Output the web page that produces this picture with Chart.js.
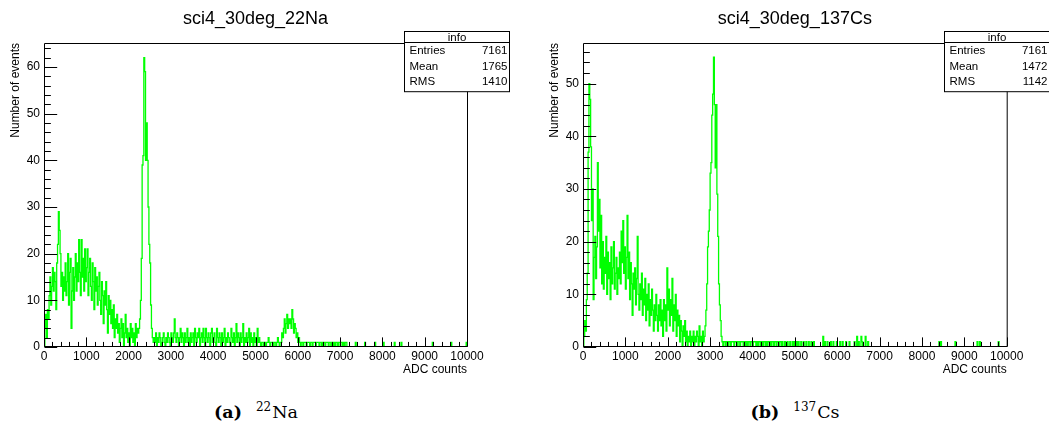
<!DOCTYPE html>
<html>
<head>
<meta charset="utf-8">
<script src="https://cdn.jsdelivr.net/npm/chart.js@4/dist/chart.umd.min.js"></script>
<style>
  body { margin: 0; background: #fff; width: 1049px; height: 427px; position: relative; overflow: hidden; }
  canvas { position: absolute; top: 0; }
  #naChart { left: 0; }
  #csChart { left: 539px; }
  .caption { position: absolute; top: 402px; width: 240px; text-align: center; line-height: 20px;
             font-family: 'DejaVu Serif', 'Liberation Serif', serif; font-size: 17.5px; color: #000; }
  .caption b { margin-right: 14px; }
  .caption sup { font-size: 12px; vertical-align: baseline; position: relative; top: -0.6em; margin-right: 1px; }
</style>
</head>
<body>
<canvas id="naChart" width="511" height="392"></canvas>
<canvas id="csChart" width="510" height="392"></canvas>
<div class="caption" style="left:136px"><b>(a)</b><sup>22</sup>Na</div>
<div class="caption" style="left:675px"><b>(b)</b><sup>137</sup>Cs</div>
<script>
// both histograms: 500 bins of 20 ADC counts between 0 and 10000
const BIN_WIDTH = 20;
const X_MAX = 10000;

// 22Na bin contents, one line = 10 bins = 200 ADC (start of line in comment)
const naCounts = [
  0, 4, 7, 2, 8, 6, 11, 15, 9, 13,        // 0
  17, 12, 16, 14, 8, 18, 22, 29, 25, 20,  // 200
  13, 16, 10, 15, 12, 18, 11, 14, 20, 9,  // 400
  16, 19, 4, 12, 17, 10, 15, 20, 12, 18,  // 600
  14, 23, 16, 11, 23, 15, 19, 12, 21, 14, // 800
  17, 21, 11, 16, 19, 13, 10, 18, 14, 8,  // 1000
  17, 12, 15, 9, 13, 16, 10, 7, 14, 11,   // 1200
  5, 12, 9, 14, 8, 3, 11, 7, 10, 5,       // 1400
  8, 4, 9, 2, 6, 4, 7, 3, 5, 1,           // 1600
  4, 6, 2, 5, 0, 3, 7, 2, 4, 1,           // 1800
  3, 0, 5, 2, 4, 1, 3, 0, 5, 2,           // 2000
  4, 3, 4, 6, 10, 19, 39, 41, 62, 59,     // 2200
  40, 48, 40, 30, 22, 18, 9, 4, 2, 1,     // 2400
  2, 1, 3, 0, 2, 1, 3, 2, 0, 1,           // 2600
  2, 3, 1, 0, 2, 1, 3, 2, 1, 0,           // 2800
  3, 2, 1, 3, 6, 2, 1, 3, 2, 0,           // 3000
  2, 4, 1, 3, 2, 0, 3, 1, 2, 4,           // 3200
  1, 2, 0, 3, 1, 2, 3, 0, 4, 2,           // 3400
  1, 3, 2, 4, 0, 2, 3, 1, 4, 2,           // 3600
  0, 4, 2, 1, 3, 2, 0, 3, 4, 1,           // 3800
  2, 3, 1, 0, 4, 2, 1, 3, 2, 0,           // 4000
  3, 1, 2, 4, 0, 2, 1, 3, 2, 1,           // 4200
  0, 4, 2, 1, 3, 0, 2, 5, 1, 3,           // 4400
  2, 0, 3, 1, 2, 5, 0, 2, 1, 3,           // 4600
  1, 2, 4, 0, 3, 1, 2, 0, 3, 1,           // 4800
  2, 0, 4, 1, 2, 1, 0, 1, 1, 0,           // 5000
  1, 1, 0, 1, 1, 2, 1, 0, 1, 1,           // 5200
  1, 0, 1, 1, 0, 1, 2, 1, 0, 1,           // 5400
  1, 3, 2, 4, 6, 3, 5, 7, 4, 6,           // 5600
  5, 6, 4, 8, 6, 3, 5, 4, 2, 3,           // 5800
  1, 2, 1, 0, 1, 1, 0, 1, 1, 1,           // 6000
  0, 1, 1, 1, 0, 1, 1, 0, 1, 1,           // 6200
  1, 0, 1, 1, 1, 0, 1, 1, 0, 1,           // 6400
  1, 1, 0, 1, 1, 1, 0, 1, 1, 0,           // 6600
  1, 1, 0, 1, 0, 1, 1, 0, 1, 1,           // 6800
  0, 1, 1, 0, 1, 0, 1, 1, 0, 0            // 7000
];
// single entries further out: [ADC, count]
const naTail = [[7360, 1], [7580, 1], [7820, 1], [8020, 1], [8280, 1], [8440, 1], [9180, 1], [9620, 1], [9980, 1]];

// 137Cs bin contents
const csCounts = [
  0, 2, 5, 3, 9, 14, 37, 50, 47, 38,      // 0
  24, 30, 9, 17, 21, 13, 19, 35, 22, 28,  // 200
  15, 25, 12, 20, 11, 17, 14, 21, 10, 18, // 400
  13, 16, 9, 19, 12, 15, 20, 11, 14, 17,  // 600
  10, 15, 13, 18, 12, 22, 16, 24, 14, 19, // 800
  11, 17, 25, 13, 18, 9, 16, 12, 6, 14,   // 1000
  11, 15, 8, 13, 21, 10, 7, 12, 9, 14,    // 1200
  6, 11, 8, 13, 5, 10, 7, 12, 4, 9,       // 1400
  6, 11, 7, 3, 8, 5, 10, 6, 3, 8,         // 1600
  5, 9, 4, 7, 2, 9, 5, 8, 3, 15,          // 1800
  7, 11, 4, 9, 6, 13, 3, 8, 5, 10,        // 2000
  2, 7, 4, 6, 1, 5, 3, 0, 4, 2,           // 2200
  5, 1, 3, 0, 2, 1, 3, 0, 2, 1,           // 2400
  3, 0, 2, 1, 3, 2, 0, 4, 1, 2,           // 2600
  0, 3, 1, 2, 4, 7, 12, 19, 22, 26,       // 2800
  33, 35, 44, 48, 55, 46, 34, 46, 29, 21, // 3000
  12, 8, 5, 2, 1, 0, 1, 1, 0, 1,          // 3200
  1, 0, 1, 1, 0, 1, 1, 1, 0, 1,           // 3400
  1, 1, 0, 1, 1, 0, 1, 1, 1, 0,           // 3600
  1, 1, 0, 1, 0, 1, 1, 0, 1, 1,           // 3800
  0, 1, 1, 1, 0, 1, 0, 1, 1, 0,           // 4000
  1, 1, 0, 1, 1, 0, 1, 0, 1, 1,           // 4200
  0, 1, 0, 1, 1, 0, 1, 1, 0, 1,           // 4400
  1, 0, 1, 1, 0, 1, 0, 0, 1, 0,           // 4600
  0, 1, 0, 0, 1, 0, 0, 1, 0, 1,           // 4800
  0, 0, 1, 0, 1, 0, 0, 1, 0, 0,           // 5000
  1, 0, 0, 1, 0, 0, 1, 0, 0, 1,           // 5200
  0, 0, 1, 0, 0, 0, 0, 0, 0, 0,           // 5400
  0, 0, 0, 2, 0, 1, 0, 0, 1, 0,           // 5600
  0, 0, 1, 0, 0, 1, 0, 0, 0, 1,           // 5800
  0, 0, 0, 1, 0, 0, 1, 0, 0, 0,           // 6000
  1, 0, 0, 0, 1, 0, 0, 0, 0, 0,           // 6200
  1, 0, 0, 2, 0, 1, 0, 0, 2, 1,           // 6400
  0, 0, 0, 2, 0, 0, 1, 0, 0, 0            // 6600
];
const csTail = [[8400, 1], [8440, 1], [8780, 1], [9300, 1], [9360, 1], [9800, 1]];

const xTicks = [0, 1000, 2000, 3000, 4000, 5000, 6000, 7000, 8000, 9000, 10000];
const naYTicks = [0, 10, 20, 30, 40, 50, 60];
const csYTicks = [0, 10, 20, 30, 40, 50];
const naStats = [['Entries', '7161'], ['Mean', '1765'], ['RMS', '1410']];
const csStats = [['Entries', '7161'], ['Mean', '1472'], ['RMS', '1142']];

const FONT = "'Liberation Sans', Arial, Helvetica, sans-serif";

// full bin list -> step line points (lower bin edges + closing point)
function histPoints(counts, tail) {
  const bins = new Array(X_MAX / BIN_WIDTH).fill(0);
  counts.forEach((c, i) => { bins[i] = c; });
  tail.forEach(([adc, c]) => { bins[Math.floor(adc / BIN_WIDTH)] = c; });
  const pts = bins.map((c, i) => ({ x: i * BIN_WIDTH, y: c }));
  pts.push({ x: X_MAX, y: 0 });
  return pts;
}

// ROOT style frame: inner ticks, frame lines and the stats box
const rootFrame = {
  id: 'rootFrame',
  afterDatasetsDraw(chart, args, opts) {
    const { ctx, chartArea: a, scales: { x, y } } = chart;
    const L = a.left + 0.5, B = a.bottom - 0.5, T = a.top + 0.5, R = a.right + 0.5;
    ctx.save();
    ctx.strokeStyle = '#000';
    ctx.lineWidth = 1;

    ctx.beginPath();
    ctx.moveTo(L, T); ctx.lineTo(R, T); ctx.lineTo(R, B); ctx.lineTo(L, B); ctx.closePath();
    ctx.stroke();

    // x ticks, 5 subdivisions
    const xStep = (xTicks[1] - xTicks[0]) / 5;
    const xLen = (a.bottom - a.top) * 0.03;
    ctx.beginPath();
    for (let v = xTicks[0]; v <= xTicks[xTicks.length - 1] + 1e-6; v += xStep) {
      const px = Math.round(x.getPixelForValue(v)) + 0.5;
      const major = xTicks.includes(Math.round(v));
      ctx.moveTo(px, B);
      ctx.lineTo(px, B - (major ? xLen : xLen / 2));
    }
    // y ticks, 5 subdivisions
    const yStep = (opts.yTicks[1] - opts.yTicks[0]) / 5;
    const yLen = (a.right - a.left) * 0.03;
    for (let v = 0; v <= y.max + 1e-6; v += yStep) {
      const py = Math.round(y.getPixelForValue(v)) + 0.5;
      const major = opts.yTicks.includes(Math.round(v));
      ctx.moveTo(L, py);
      ctx.lineTo(L + (major ? yLen : yLen / 2), py);
    }
    ctx.stroke();

    // stats box
    const bx = Math.round(a.right - 63) + 0.5, by = 31.5, bw = 105, rowH = 15.4, headH = 11;
    const bh = headH + rowH * opts.stats.length + 3;
    ctx.fillStyle = '#fff';
    ctx.fillRect(bx, by, bw, bh);
    ctx.strokeRect(bx, by, bw, bh);
    ctx.beginPath();
    ctx.moveTo(bx, by + headH); ctx.lineTo(bx + bw, by + headH);
    ctx.stroke();
    ctx.fillStyle = '#000';
    ctx.font = '11.5px ' + FONT;
    ctx.textBaseline = 'middle';
    ctx.textAlign = 'center';
    ctx.fillText('info', bx + bw / 2, by + headH / 2 + 0.5);
    opts.stats.forEach(([k, v], i) => {
      const ty = by + headH + rowH * (i + 0.5) + 1;
      ctx.textAlign = 'left';
      ctx.fillText(k, bx + 5, ty);
      ctx.textAlign = 'right';
      ctx.fillText(v, bx + bw - 2, ty);
    });
    ctx.restore();
  }
};

function makeHist(id, title, counts, tail, yMax, yTicks, stats, rightPad) {
  return new Chart(document.getElementById(id), {
    type: 'line',
    data: {
      datasets: [{
        data: histPoints(counts, tail),
        borderColor: '#00ff00',
        borderWidth: 1.3,
        stepped: 'before',
        pointRadius: 0,
        fill: false
      }]
    },
    options: {
      responsive: false,
      animation: false,
      events: [],
      layout: { padding: { left: 0, right: rightPad, top: 0, bottom: 0 } },
      plugins: {
        legend: { display: false },
        tooltip: { enabled: false },
        title: {
          display: true,
          fullSize: false,
          text: title,
          color: '#000',
          font: { family: FONT, size: 18, weight: 'normal' },
          padding: { top: 8, bottom: 13.4 }
        },
        rootFrame: { stats: stats, yTicks: yTicks }
      },
      scales: {
        x: {
          type: 'linear',
          min: 0,
          max: X_MAX,
          afterBuildTicks: s => { s.ticks = xTicks.map(v => ({ value: v })); },
          afterFit: s => { s.height = 45; },
          grid: { display: false, drawTicks: false },
          border: { display: false },
          ticks: { color: '#000', font: { family: FONT, size: 12 }, padding: 2, maxRotation: 0, autoSkip: false,
                   callback: v => String(v) },
          title: {
            display: true, text: 'ADC counts', align: 'end', color: '#000',
            font: { family: FONT, size: 12 }, padding: { top: 0, bottom: 15.3 }
          }
        },
        y: {
          min: 0,
          max: yMax,
          afterBuildTicks: s => { s.ticks = yTicks.map(v => ({ value: v })); },
          afterFit: s => { s.width = 44; },
          grid: { display: false, drawTicks: false },
          border: { display: false },
          ticks: { color: '#000', font: { family: FONT, size: 12 }, padding: 4 },
          title: {
            display: true, text: 'Number of events', align: 'end', color: '#000',
            font: { family: FONT, size: 12 }, padding: { top: 8, bottom: 0 }
          }
        }
      }
    },
    plugins: [rootFrame]
  });
}

makeHist('naChart', 'sci4_30deg_22Na', naCounts, naTail, 65.14, naYTicks, naStats, 44);
makeHist('csChart', 'sci4_30deg_137Cs', csCounts, csTail, 57.7, csYTicks, csStats, 42.3);
</script>
</body>
</html>
